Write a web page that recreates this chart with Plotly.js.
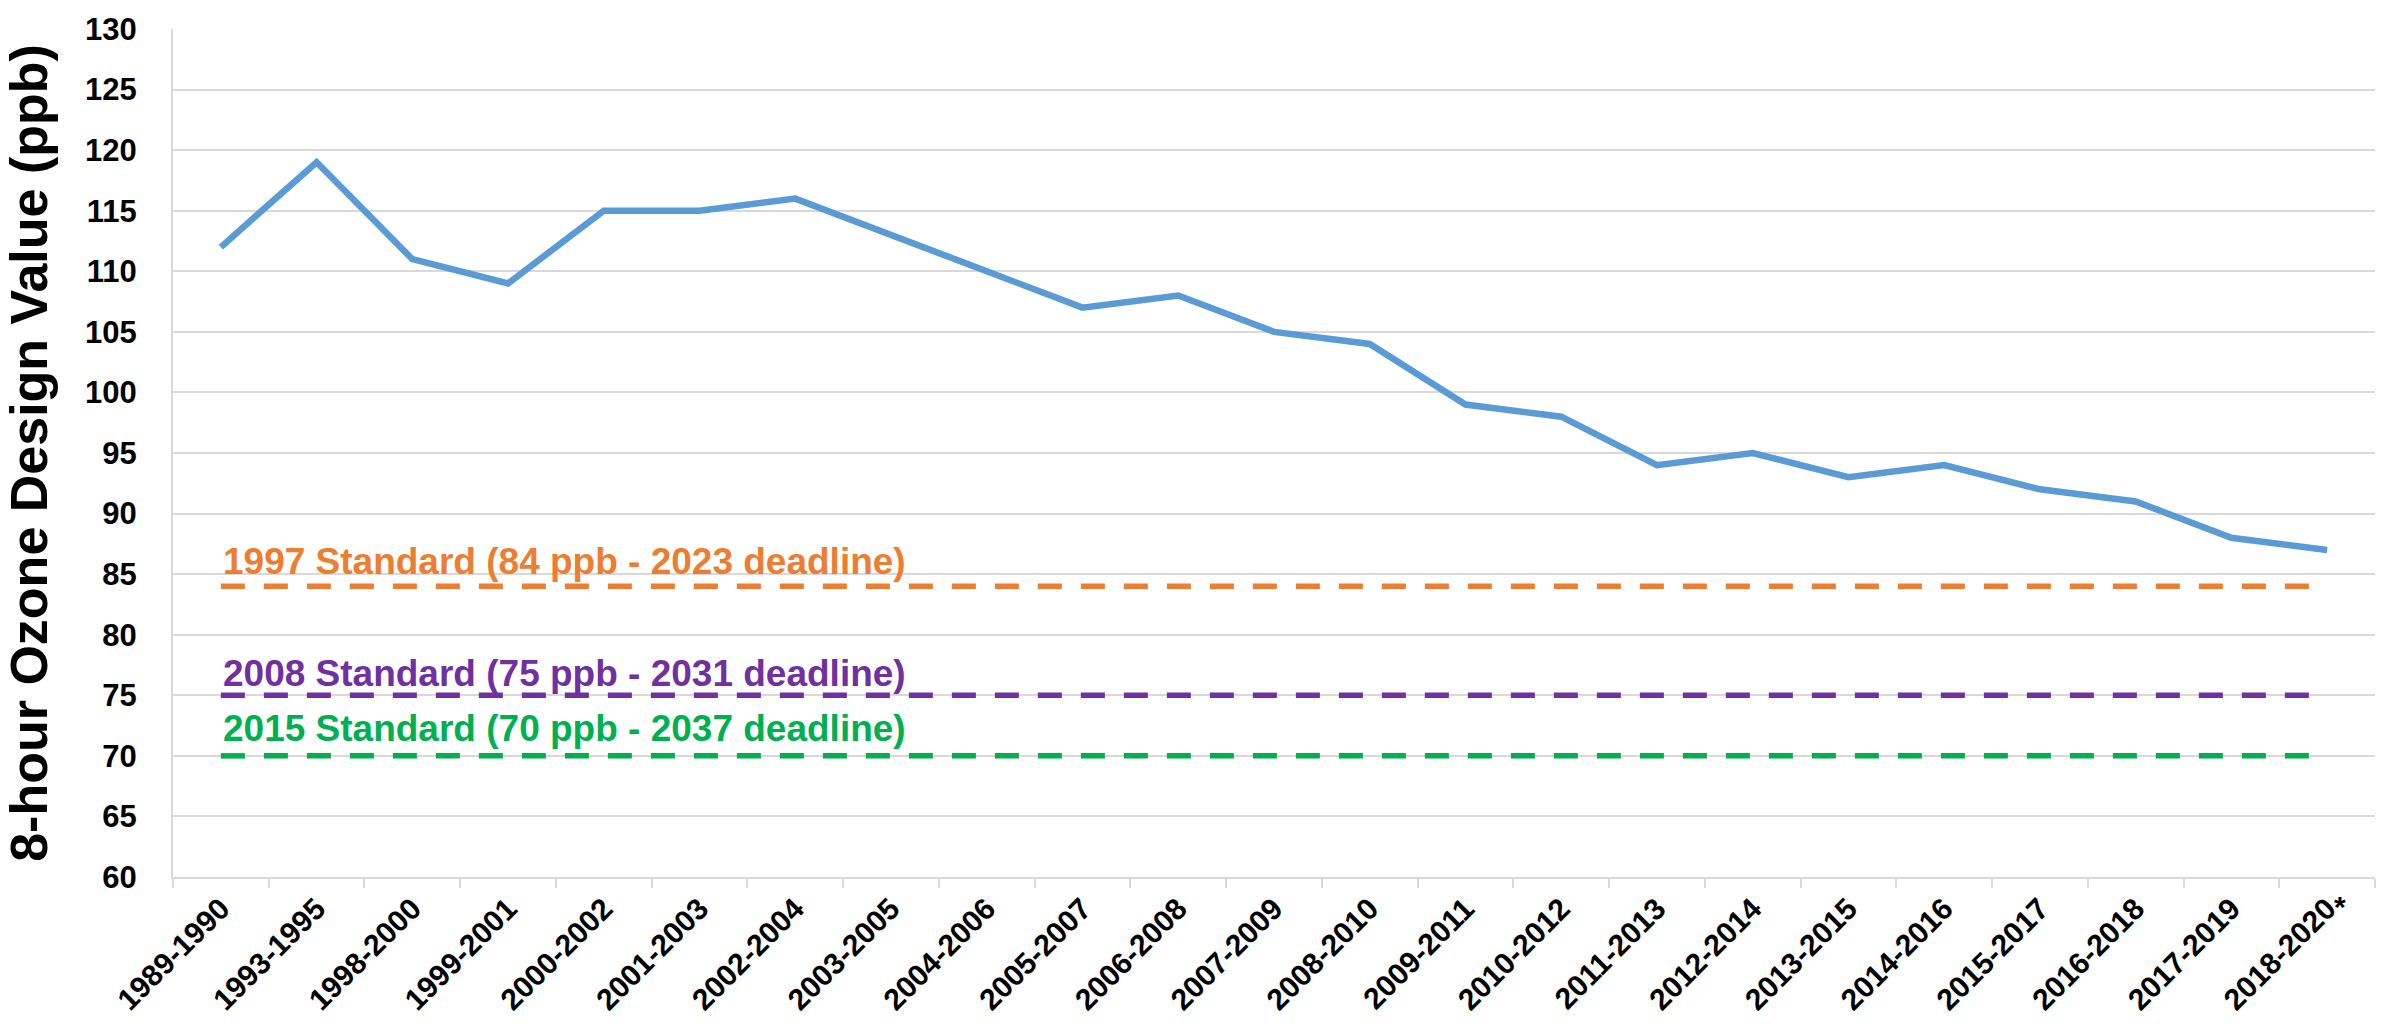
<!DOCTYPE html>
<html>
<head>
<meta charset="utf-8">
<script src="https://cdn.plot.ly/plotly-3.0.1.min.js"></script>
<style>
  html, body { margin: 0; padding: 0; background: #ffffff; }
  #chart { width: 2392px; height: 1024px; }
</style>
</head>
<body>
<div id="chart"></div>
<script>
// ---- Data ----
const periods = ["1989-1990","1993-1995","1998-2000","1999-2001","2000-2002","2001-2003","2002-2004","2003-2005","2004-2006","2005-2007","2006-2008","2007-2009","2008-2010","2009-2011","2010-2012","2011-2013","2012-2014","2013-2015","2014-2016","2015-2017","2016-2018","2017-2019","2018-2020"];
const designValues = [112,119,111,109,115,115,116,113,110,107,108,105,104,99,98,94,95,93,94,92,91,88,87];
const footnoteMark = "*";   // marks the last (preliminary) period

const standardValues = [84, 75, 70];
const standardLabels = [
  "1997 Standard (84 ppb - 2023 deadline)",
  "2008 Standard (75 ppb - 2031 deadline)",
  "2015 Standard (70 ppb - 2037 deadline)"
];

const yTitle = "8-hour Ozone Design Value (ppb)";

// ---- Styles ----
const FONT = "Liberation Sans, Arial, sans-serif";
const standardColors = ["#ed7d31", "#7030a0", "#00b050"];
const labelShifts = [2, -1, 5];
const GRID = "#d9d9d9";

const traces = [];
standardValues.forEach((v, i) => {
  traces.push({
    type: "scatter",
    mode: "lines",
    x: [periods[0], periods[periods.length - 1]],
    y: [v, v],
    line: { color: standardColors[i], width: 5.5, dash: "24px,19px" },
    hoverinfo: "skip",
    showlegend: false
  });
});
traces.push({
  type: "scatter",
  mode: "lines",
  x: periods,
  y: designValues,
  line: { color: "#5b9bd5", width: 6.5 },
  showlegend: false
});

const annotations = standardLabels.map((t, i) => ({
  text: t,
  xref: "x", yref: "y",
  x: periods[0], y: standardValues[i],
  xanchor: "left", yanchor: "bottom",
  yshift: labelShifts[i],
  showarrow: false,
  font: { family: FONT, size: 37, color: standardColors[i], weight: 700 }
}));
annotations.push({
  text: footnoteMark,
  xref: "x", yref: "paper",
  x: periods[periods.length - 1], y: 0,
  xanchor: "center", yanchor: "top",
  xshift: 13, yshift: -11,
  showarrow: false,
  font: { family: FONT, size: 30, color: "#000000", weight: 700 }
});

const layout = {
  width: 2392, height: 1024,
  paper_bgcolor: "#ffffff", plot_bgcolor: "#ffffff",
  margin: { l: 173, r: 17, t: 24, b: 147 },
  font: { family: FONT, color: "#000000" },
  showlegend: false,
  xaxis: {
    type: "category",
    categoryorder: "array",
    categoryarray: periods,
    range: [-0.5, periods.length - 0.5],
    showgrid: false,
    showline: true, linecolor: GRID, linewidth: 2,
    ticks: "outside", tickson: "boundaries", ticklen: 9, tickwidth: 2, tickcolor: GRID,
    tickangle: -45,
    tickfont: { family: FONT, size: 30, color: "#000000", weight: 700 },
    automargin: false,
    fixedrange: true
  },
  yaxis: {
    range: [60, 130],
    dtick: 5, tick0: 60,
    showgrid: true, gridcolor: GRID, gridwidth: 2,
    showline: true, linecolor: GRID, linewidth: 2,
    zeroline: false,
    ticks: "",
    ticklabelstandoff: 28,
    tickfont: { family: FONT, size: 31, color: "#000000", weight: 700 },
    title: { text: yTitle, font: { family: FONT, size: 52, color: "#000000", weight: 700 }, standoff: 24 },
    automargin: true,
    fixedrange: true
  },
  annotations: annotations
};

Plotly.newPlot("chart", traces, layout, { displayModeBar: false, staticPlot: true });
</script>
</body>
</html>
